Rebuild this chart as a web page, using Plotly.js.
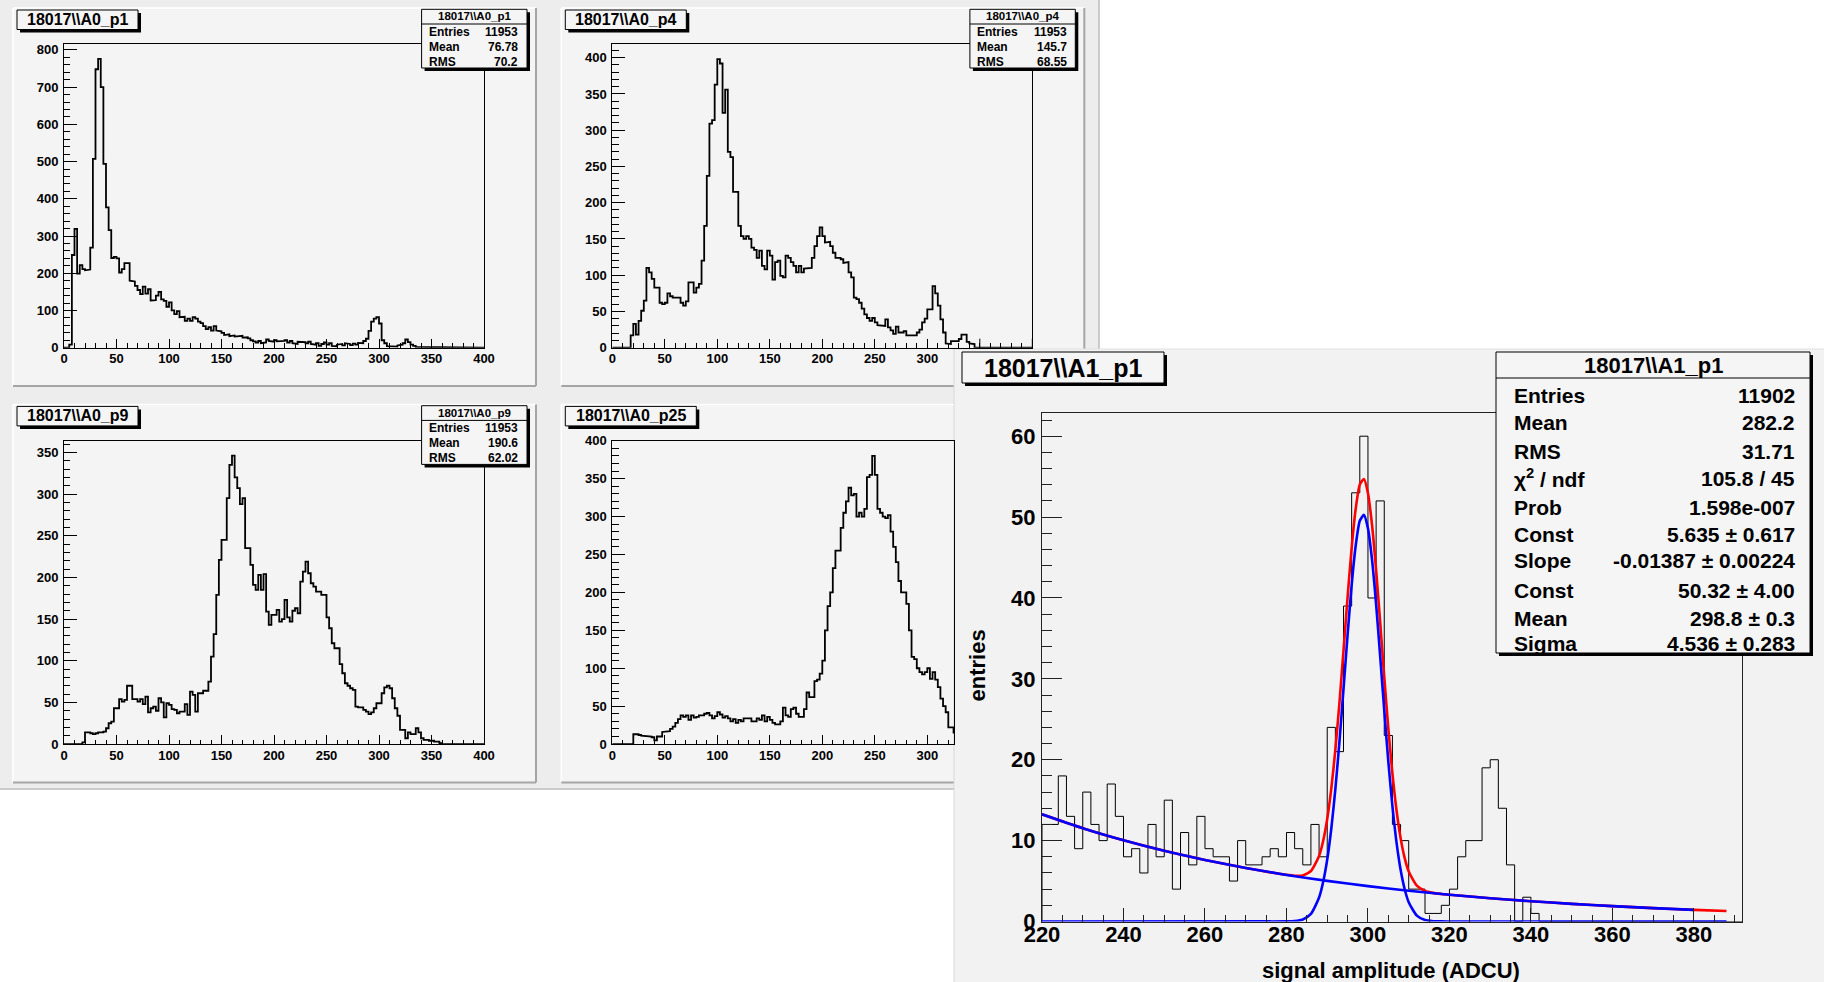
<!DOCTYPE html>
<html><head><meta charset="utf-8">
<script src="https://cdn.plot.ly/plotly-3.0.1.min.js"></script>
<style>html,body{margin:0;padding:0;background:#fff;} #chart{width:1824px;height:982px;}</style>
</head><body><div id="chart"></div>
<script>
// ---------------- DATA ----------------
// small histograms: 160 bins of width 2.5 from 0 to 400
const a0BinStart = 0;
const a0BinWidth = 2.5;
const countsA0p1 = [
 0,0,8,249,319,199,222,211,208,210, 269,507,748,776,700,494,377,316,241,244,
 240,202,211,227,227,180,178,166,155,144, 164,145,157,127,128,140,150,130,126,110,
 122,100,90,98,82,83,72,78,72,82, 78,70,66,58,50,55,46,58,46,44,
 40,34,36,31,33,30,30,32,27,28, 25,20,17,14,18,12,14,22,18,16,
 20,17,19,18,20,14,18,12,10,16, 14,15,12,16,10,8,12,5,10,14,
 8,12,5,4,8,10,6,12,10,7, 11,8,13,12,18,24,45,70,78,82,
 65,20,12,4,3,5,3,6,8,12, 22,15,8,5,2,1,0,0,0,0,
 0,0,0,0,0,0,0,0,0,0, 0,0,0,0,0,0,0,0,0,0];
const countsA0p4 = [
 0,0,0,0,0,0,0,
 17,33,18,37,51,65,110,104,95,83,
 83,62,60,62,75,71,69,68,69,62,
 58,64,90,90,76,83,88,120,168,237,
 309,314,363,398,392,324,356,270,263,215,
 215,168,154,150,154,150,138,135,124,134,
 113,108,134,127,94,118,120,99,97,127,
 124,118,113,104,113,104,109,110,110,124,
 140,154,166,154,145,146,140,131,124,124,
 122,117,118,104,97,69,67,62,54,46,
 41,37,41,35,31,30,30,39,28,24,
 19,29,21,21,23,17,17,17,17,21,25,
 35,40,53,53,85,75,58,39,21,6,
 5,9,9,9,12,18,18,8,6,5,
 0,0,0,0,0,0,0,0,0,0,0,0,0,0,0,0,0,0,0,0,0,0];
const countsA0p9 = [
 0,0,0,0,0,0,0,2,
 14,14,13,12,13,14,14,15,
 19,25,27,43,43,54,51,53,70,70,
 54,54,51,54,48,57,38,43,45,40,
 55,50,32,49,47,42,41,37,39,39,
 48,35,63,59,39,61,61,64,64,75,
 105,132,179,221,245,245,295,335,346,320,
 307,288,295,235,235,215,191,185,203,185,
 204,159,143,155,155,161,147,150,173,152,
 147,160,163,157,195,207,219,205,193,189,
 183,183,179,179,152,139,121,115,115,96,
 85,73,70,67,65,45,44,44,41,39,
 36,38,43,49,49,61,68,70,67,55,
 43,34,17,17,7,14,12,12,19,14,
 7,5,5,4,4,3,3,1,0,0,
 0,0,0,0,0,0,0,0,0,0,0,0,0,0];
const countsA0p25 = [
 0,0,0,0,0,0,0,0,
 13,13,12,11,10,10,10,9,5,10,
 10,16,16,17,20,23,28,33,38,36,
 38,32,38,35,36,38,38,40,41,38,
 34,37,42,39,35,37,34,30,33,28,
 32,30,34,34,34,30,30,34,32,38,
 30,36,32,28,26,26,30,48,38,36,
 46,48,40,36,36,46,68,62,62,83,
 85,93,110,150,182,200,232,255,255,285,
 305,320,338,328,330,300,305,300,310,352,
 355,380,355,310,305,300,298,302,280,260,
 240,215,200,200,185,150,115,112,100,95,
 92,95,100,86,95,85,75,60,50,42,
 22,22,15,10,6,4,3,2,1,0,
 0,0,0,0,0,0,0,0,0,0,0,0,0,0,0,0,0,0,0,0,0,0];

// big histogram: bins of width 2 from 220
const a1BinStart = 220;
const a1BinWidth = 2;
const countsA1p1 = [
 12,12,18,13,9,16,12,10,17,13,
 8,9,6,12,8,15,4,11,7,13,
 9,8,8,5,10,7,7,8,9,8,
 11,9,7,12,8,24,21,39,53,60,
 40,52,23,12,10,4,4,1,1,2,
 4,8,10,10,19,20,14,7,0,3,
 1,0,0,0,0,0,0,0,0,0,
 0,0,0,0,0,0,0,0,0,0,0,0,0,0,0,0];

// fit curves as drawn (total = red, components = blue)
const fitTotalX = [220,230,240,250,260,270,280,282,284,286,288,289,290,291,292,293,294,295,296,297,298,299,300,301,302,303,304,305,306,307,308,309,310,312,314,316,318,320,330,340,350,360,370,380,388];
const fitTotalY = [13.25,11.53,10.04,8.74,7.61,6.62,5.77,5.66,5.70,6.24,8.11,9.96,12.68,16.42,21.24,27.03,33.50,40.11,46.21,51.06,54.03,54.70,52.96,49.05,43.48,36.97,30.22,23.84,18.30,13.78,10.34,7.87,6.19,4.43,3.78,3.54,3.41,3.31,2.88,2.51,2.18,1.90,1.65,1.44,1.29];
const bkgX = [220,230,240,250,260,270,280,290,300,310,320,330,340,350,360,370,380];
const bkgY = [13.25,11.53,10.04,8.74,7.61,6.62,5.76,5.02,4.37,3.80,3.31,2.88,2.51,2.18,1.90,1.65,1.44];
const gausX = [220,280,282,284,286,288,289,290,291,292,293,294,295,296,297,298,299,300,301,302,303,304,305,306,307,308,309,310,312,314,316,318,320,388];
const gausY = [0,0.01,0.05,0.25,0.94,2.96,4.88,7.66,11.47,16.36,22.22,28.75,35.43,41.59,46.51,49.54,50.27,48.59,44.74,39.23,32.78,26.09,19.77,14.28,9.82,6.43,4.02,2.39,0.73,0.18,0.04,0.01,0,0];

// texts
const titlesA0 = ['18017\\\\A0_p1','18017\\\\A0_p4','18017\\\\A0_p9','18017\\\\A0_p25'];
const statLabelsA0 = ['Entries','Mean','RMS'];
const statValuesA0 = [['11953','76.78','70.2'],['11953','145.7','68.55'],['11953','190.6','62.02'],null];
const titleA1 = '18017\\\\A1_p1';
const statLabelsA1 = ['Entries','Mean','RMS','\u03c7<sup>2</sup> / ndf','Prob','Const','Slope','Const','Mean','Sigma'];
const statValuesA1 = ['11902','282.2','31.71','105.8 / 45','1.598e-007','5.635 \u00b1 0.617','-0.01387 \u00b1 0.00224','50.32 \u00b1 4.00','298.8 \u00b1 0.3','4.536 \u00b1 0.283'];
const xTitleA1 = 'signal amplitude (ADCU)';
const yTitleA1 = 'entries';

// ---------------- HELPERS ----------------
const W = 1824, H = 982;
const X = px => px / W;
const Y = py => 1 - py / H;
const FONT = 'Liberation Sans, Arial, Helvetica, sans-serif';

function stepLine(start, width, counts) {
  const xs = [start], ys = [0];
  counts.forEach((c, i) => { const a = start + i * width; xs.push(a, a + width); ys.push(c, c); });
  xs.push(start + counts.length * width); ys.push(0);
  return {xs, ys};
}
const shapes = [];
const annotations = [];
function rect(x0, y0, x1, y1, fill, layer, lc, lw) {
  shapes.push({type:'rect', xref:'paper', yref:'paper', x0:X(x0), x1:X(x1), y0:Y(y1), y1:Y(y0),
    fillcolor:fill, line:{color:lc || 'rgba(0,0,0,0)', width: lw || 0}, layer: layer || 'below'});
}
function seg(x0, y0, x1, y1, color, width, layer) {
  shapes.push({type:'line', xref:'paper', yref:'paper', x0:X(x0), x1:X(x1), y0:Y(y0), y1:Y(y1),
    line:{color:color, width:width}, layer: layer || 'below'});
}
function ann(text, x, y, size, xanchor, yanchor) {
  annotations.push({text:text, xref:'paper', yref:'paper', x:X(x), y:Y(y), showarrow:false,
    xanchor: xanchor || 'center', yanchor: yanchor || 'middle',
    font:{family:FONT, size:size, color:'#000', weight:700}});
}
function boxWithShadow(x0, y0, x1, y1, sh) {
  rect(x0 + sh, y0 + sh, x1 + sh, y1 + sh, '#000000', 'above');
  rect(x0, y0, x1, y1, '#f5f5f5', 'above', '#000000', 1);
}

// ---------------- BACKGROUND ----------------
rect(0, 0, 1099, 789, '#ededed', 'below');
seg(1099, 0, 1099, 789, '#bdbdbd', 1.5);
seg(0, 789, 1099, 789, '#bdbdbd', 1.5);

const layout = {
  width: W, height: H, margin:{l:0, r:0, t:0, b:0},
  paper_bgcolor:'#ffffff', plot_bgcolor:'rgba(0,0,0,0)', showlegend:false,
  shapes: shapes, annotations: annotations
};
const data = [];

// ---------------- SMALL PANELS ----------------
const panelOrigins = [[13, 8], [561.3, 8], [13, 404.4], [561.3, 404.4]];
const panelYMax = [815, 418.5, 364, 400];
const panelYDtick = [100, 50, 50, 50];
const panelYMinor = [20, 10, 10, 10];
const panelCounts = [countsA0p1, countsA0p4, countsA0p9, countsA0p25];
const titleWidths = [121, 121, 121, 131];
const panelXMaxLabel = [400, 300, 400, 300];

panelOrigins.forEach((o, k) => {
  const ox = o[0], oy = o[1];
  // panel background with bevel
  rect(ox, oy, ox + 523, oy + 378, '#f4f4f4', 'below');
  seg(ox, oy, ox + 523, oy, '#ffffff', 1.5);
  seg(ox, oy, ox, oy + 378, '#ffffff', 1.5);
  seg(ox + 523, oy, ox + 523, oy + 378, '#a5a5a5', 2);
  seg(ox, oy + 378, ox + 523, oy + 378, '#a5a5a5', 2);

  const left = ox + 51, top = oy + 36.3, bottom = oy + 339.7;
  let right = ox + 471;
  let xmax = 400;
  if (k === 3) { right = 954; xmax = (right - left) / 1.05; }
  const n = k + 1;
  const xa = 'xaxis' + (n === 1 ? '' : n), ya = 'yaxis' + (n === 1 ? '' : n);
  const xid = 'x' + (n === 1 ? '' : n), yid = 'y' + (n === 1 ? '' : n);
  const tickfont = {family:FONT, size:13, color:'#000', weight:700};
  const labVals = [];
  for (let v = 0; v <= panelXMaxLabel[k]; v += 50) labVals.push(v);
  layout[xa] = {
    domain:[X(left), X(right)], range:[0, xmax], anchor:yid, showgrid:false, zeroline:false,
    showline:true, mirror:true, linecolor:'#000', linewidth:1,
    ticks:'inside', ticklen:9, tickwidth:1, tickcolor:'#000',
    tickmode:'array', tickvals:labVals, ticktext:labVals.map(String),
    minor:{ticks:'inside', ticklen:4.5, tickmode:'linear', tick0:0, dtick:10, tickcolor:'#000', tickwidth:1},
    tickfont:tickfont, fixedrange:true, ticklabelstandoff:-1
  };
  layout[ya] = {
    domain:[Y(bottom), Y(top)], range:[0, panelYMax[k]], anchor:xid, showgrid:false, zeroline:false,
    showline:true, mirror:true, linecolor:'#000', linewidth:1,
    ticks:'inside', ticklen:12.6, tickwidth:1, tickcolor:'#000', tick0:0, dtick:panelYDtick[k],
    minor:{ticks:'inside', ticklen:6.3, tick0:0, dtick:panelYMinor[k], tickcolor:'#000', tickwidth:1},
    tickfont:tickfont, fixedrange:true, ticklabelstandoff:2
  };
  // p4 pad: major ticks at 350 and 400 whose labels are hidden under the big pad
  if (k === 1) {
    [350, 400].forEach(v => {
      const px = left + v * 1.05;
      seg(px, bottom, px, bottom - 9, '#000', 1, 'above');
    });
  }
  const st = stepLine(a0BinStart, a0BinWidth, panelCounts[k]);
  data.push({type:'scatter', mode:'lines', x:st.xs, y:st.ys, xaxis:xid, yaxis:yid,
    line:{color:'#000', width:1.8}, hoverinfo:'skip'});
});

// big panel background (covers the lower right of the 4-pad canvas)
rect(954, 349, 1824, 982, '#f2f2f2', 'below');
seg(954, 349, 1824, 349, '#e0e0e0', 1);
seg(954, 349, 954, 982, '#d8d8d8', 1);

// small panel title boxes and stat boxes (above)
panelOrigins.forEach((o, k) => {
  const ox = o[0], oy = o[1];
  const tw = titleWidths[k];
  boxWithShadow(ox + 4, oy + 2, ox + 4 + tw, oy + 21.5, 3);
  ann(titlesA0[k], ox + 4 + tw / 2, oy + 11.5, 16);
  const sv = statValuesA0[k];
  if (sv) {
    boxWithShadow(ox + 408.6, oy + 1.3, ox + 514, oy + 60, 3);
    seg(ox + 408.6, oy + 16, ox + 514, oy + 16, '#000', 1, 'above');
    ann(titlesA0[k], ox + 461.3, oy + 8.3, 11.5);
    const rows = [24, 38.7, 54];
    statLabelsA0.forEach((lab, i) => {
      ann(lab, ox + 414, oy + rows[i], 12, 'left');
      ann(sv[i], ox + 507.3, oy + rows[i], 12, 'right');
    });
  }
});

// ---------------- BIG PANEL ----------------
const mL = 1042, mR = 1742, mT = 412.5, mB = 921.5;
const bigTick = {family:FONT, size:22, color:'#000', weight:700};
layout.xaxis5 = {
  domain:[X(mL), X(mR)], range:[220, 391.8], anchor:'y5', showgrid:false, zeroline:false,
  showline:true, mirror:true, linecolor:'#222', linewidth:1,
  ticks:'inside', ticklen:14, tickwidth:1, tickcolor:'#222', tick0:220, dtick:20,
  minor:{ticks:'inside', ticklen:7, tick0:220, dtick:5, tickcolor:'#222', tickwidth:1},
  tickfont:bigTick, fixedrange:true, ticklabelstandoff:-7
};
layout.yaxis5 = {
  domain:[Y(mB), Y(mT)], range:[0, 62.93], anchor:'x5', showgrid:false, zeroline:false,
  showline:true, mirror:true, linecolor:'#222', linewidth:1,
  ticks:'inside', ticklen:20, tickwidth:1, tickcolor:'#222', tick0:0, dtick:10,
  minor:{ticks:'inside', ticklen:10, tick0:0, dtick:2, tickcolor:'#222', tickwidth:1},
  tickfont:bigTick, fixedrange:true, ticklabelstandoff:1
};
const stA1 = stepLine(a1BinStart, a1BinWidth, countsA1p1);
data.push({type:'scatter', mode:'lines', x:stA1.xs, y:stA1.ys, xaxis:'x5', yaxis:'y5',
  line:{color:'#000', width:1}, hoverinfo:'skip'});
data.push({type:'scatter', mode:'lines', x:fitTotalX, y:fitTotalY, xaxis:'x5', yaxis:'y5',
  line:{color:'#ff0000', width:2.6, shape:'spline', smoothing:0.6}, hoverinfo:'skip'});
data.push({type:'scatter', mode:'lines', x:bkgX, y:bkgY, xaxis:'x5', yaxis:'y5',
  line:{color:'#0000ff', width:2.6, shape:'spline', smoothing:0.6}, hoverinfo:'skip'});
data.push({type:'scatter', mode:'lines', x:gausX, y:gausY, xaxis:'x5', yaxis:'y5',
  line:{color:'#0000ff', width:2.6, shape:'spline', smoothing:0.6}, hoverinfo:'skip'});

// big title box
boxWithShadow(962, 352, 1164, 383, 3);
ann(titleA1, 1063, 368, 25);
// big stats box
boxWithShadow(1496, 352, 1810, 653, 3);
seg(1496, 378, 1810, 378, '#000', 1, 'above');
ann(titleA1, 1653, 365, 22);
const a1Rows = [395.7, 422.5, 451, 478, 507, 534, 560, 590, 618, 643];
statLabelsA1.forEach((lab, i) => {
  ann(lab, 1512, a1Rows[i], 21, 'left');
  ann(statValuesA1[i], 1797, a1Rows[i], 21, 'right');
});
// axis titles
ann(xTitleA1, 1391, 970, 22);
annotations.push({text:yTitleA1, xref:'paper', yref:'paper', x:X(977), y:Y(665.5), showarrow:false,
  textangle:-90, xanchor:'center', yanchor:'middle', font:{family:FONT, size:22, color:'#000', weight:700}});

Plotly.newPlot('chart', data, layout, {staticPlot:true, displayModeBar:false});
</script></body></html>
